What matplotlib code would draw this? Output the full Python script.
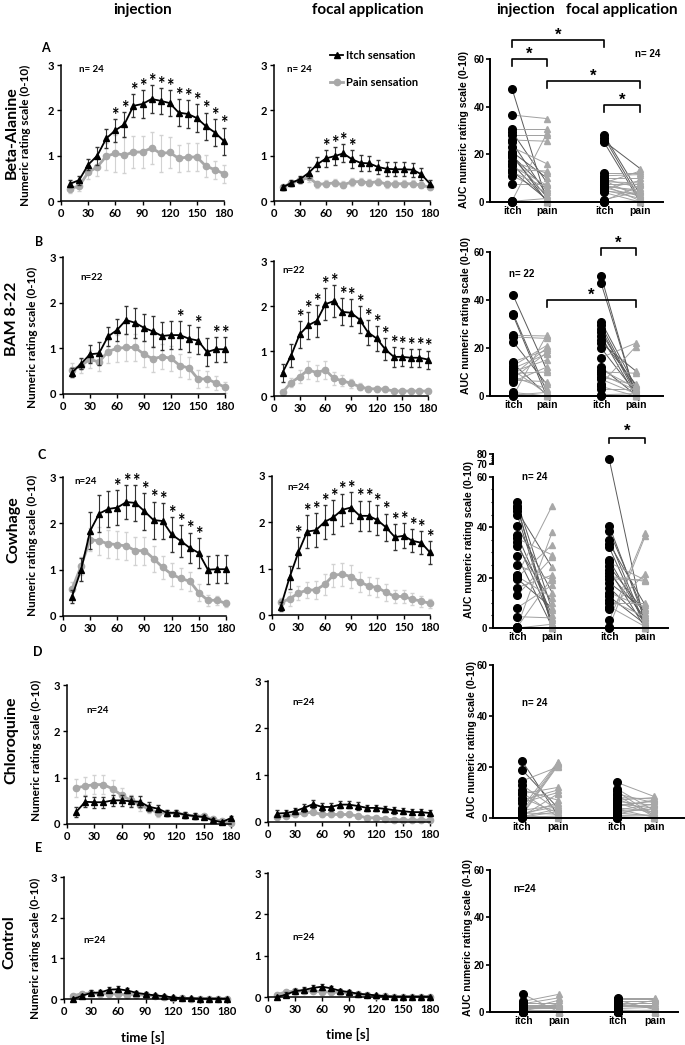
import matplotlib
matplotlib.use('Agg')
import matplotlib.pyplot as plt
from matplotlib.lines import Line2D
import numpy as np

plt.rcParams['font.family'] = ['Lato', 'DejaVu Sans']
plt.rcParams['font.weight'] = 'bold'
plt.rcParams['axes.labelweight'] = 'bold'

W, H = 685, 1045

# time course data (mean +- SE), every 10 s
t = np.arange(10, 190, 10)

ba_inj_itch = [0.38, 0.46, 0.80, 1.00, 1.38, 1.56, 1.69, 2.10, 2.14, 2.25, 2.21, 2.16, 1.95, 1.92, 1.83, 1.65, 1.51, 1.32]
ba_inj_itch_se = [0.08, 0.10, 0.12, 0.20, 0.20, 0.25, 0.28, 0.25, 0.30, 0.30, 0.28, 0.28, 0.30, 0.30, 0.30, 0.30, 0.30, 0.30]
ba_inj_pain = [0.27, 0.33, 0.63, 0.75, 0.99, 1.05, 1.01, 1.08, 1.08, 1.17, 1.05, 1.07, 0.94, 0.97, 0.97, 0.77, 0.69, 0.60]
ba_inj_pain_se = [0.10, 0.10, 0.15, 0.20, 0.30, 0.40, 0.40, 0.35, 0.35, 0.35, 0.40, 0.35, 0.30, 0.30, 0.30, 0.25, 0.20, 0.20]
ba_inj_stars = [60, 70, 80, 90, 100, 110, 120, 130, 140, 150, 160, 170, 180]

ba_foc_itch = [0.30, 0.40, 0.48, 0.62, 0.81, 0.94, 0.99, 1.05, 0.92, 0.84, 0.83, 0.75, 0.71, 0.70, 0.70, 0.69, 0.59, 0.38]
ba_foc_itch_se = [0.05, 0.06, 0.08, 0.12, 0.15, 0.18, 0.20, 0.20, 0.20, 0.18, 0.17, 0.15, 0.15, 0.15, 0.15, 0.15, 0.13, 0.08]
ba_foc_pain = [0.30, 0.40, 0.46, 0.52, 0.37, 0.38, 0.40, 0.36, 0.42, 0.43, 0.40, 0.43, 0.37, 0.38, 0.38, 0.38, 0.35, 0.30]
ba_foc_pain_se = [0.05, 0.05, 0.07, 0.10, 0.08, 0.08, 0.08, 0.08, 0.08, 0.08, 0.08, 0.08, 0.08, 0.08, 0.08, 0.08, 0.07, 0.06]
ba_foc_stars = [60, 70, 80, 90]

bam_inj_itch = [0.47, 0.66, 0.87, 0.89, 1.26, 1.40, 1.62, 1.56, 1.45, 1.37, 1.27, 1.29, 1.29, 1.21, 1.17, 0.92, 0.98, 0.98]
bam_inj_itch_se = [0.10, 0.12, 0.20, 0.25, 0.20, 0.25, 0.30, 0.33, 0.30, 0.33, 0.30, 0.30, 0.30, 0.30, 0.30, 0.30, 0.27, 0.27]
bam_inj_pain = [0.53, 0.62, 0.76, 0.70, 0.93, 1.00, 1.02, 1.02, 0.87, 0.77, 0.82, 0.78, 0.62, 0.57, 0.33, 0.33, 0.24, 0.15]
bam_inj_pain_se = [0.15, 0.15, 0.20, 0.20, 0.25, 0.30, 0.30, 0.30, 0.28, 0.28, 0.28, 0.28, 0.25, 0.25, 0.20, 0.18, 0.15, 0.12]
bam_inj_stars = [130, 150, 170, 180]

bam_foc_itch = [0.52, 0.90, 1.37, 1.57, 1.67, 2.04, 2.11, 1.87, 1.85, 1.70, 1.41, 1.28, 1.04, 0.87, 0.87, 0.85, 0.85, 0.81]
bam_foc_itch_se = [0.20, 0.25, 0.30, 0.30, 0.35, 0.35, 0.35, 0.30, 0.30, 0.30, 0.28, 0.27, 0.25, 0.22, 0.20, 0.20, 0.20, 0.20]
bam_foc_pain = [0.08, 0.30, 0.43, 0.58, 0.52, 0.58, 0.39, 0.34, 0.28, 0.21, 0.16, 0.16, 0.15, 0.11, 0.11, 0.11, 0.11, 0.11]
bam_foc_pain_se = [0.05, 0.10, 0.15, 0.20, 0.18, 0.20, 0.15, 0.12, 0.10, 0.08, 0.07, 0.07, 0.06, 0.05, 0.05, 0.05, 0.05, 0.05]
bam_foc_stars = [30, 40, 50, 60, 70, 80, 90, 100, 110, 120, 130, 140, 150, 160, 170, 180]

cow_inj_itch = [0.42, 1.00, 1.84, 2.21, 2.31, 2.34, 2.46, 2.44, 2.26, 2.07, 2.05, 1.76, 1.62, 1.47, 1.36, 1.00, 1.01, 1.01]
cow_inj_itch_se = [0.15, 0.25, 0.40, 0.40, 0.38, 0.38, 0.37, 0.38, 0.40, 0.40, 0.38, 0.37, 0.35, 0.33, 0.32, 0.30, 0.30, 0.30]
cow_inj_pain = [0.58, 1.08, 1.65, 1.62, 1.56, 1.54, 1.51, 1.41, 1.41, 1.24, 1.05, 0.90, 0.81, 0.75, 0.50, 0.34, 0.34, 0.27]
cow_inj_pain_se = [0.15, 0.20, 0.25, 0.30, 0.30, 0.30, 0.30, 0.30, 0.30, 0.28, 0.25, 0.25, 0.22, 0.20, 0.18, 0.12, 0.10, 0.08]
cow_inj_stars = [60, 70, 80, 90, 100, 110, 120, 130, 140, 150]

cow_foc_itch = [0.18, 0.81, 1.35, 1.80, 1.83, 2.01, 2.11, 2.27, 2.32, 2.14, 2.14, 2.05, 1.89, 1.68, 1.71, 1.60, 1.56, 1.35]
cow_foc_itch_se = [0.10, 0.25, 0.33, 0.35, 0.37, 0.37, 0.37, 0.35, 0.33, 0.33, 0.33, 0.32, 0.30, 0.28, 0.27, 0.25, 0.25, 0.25]
cow_foc_pain = [0.27, 0.35, 0.47, 0.54, 0.54, 0.66, 0.86, 0.88, 0.83, 0.71, 0.63, 0.59, 0.49, 0.40, 0.40, 0.34, 0.30, 0.25]
cow_foc_pain_se = [0.10, 0.15, 0.15, 0.18, 0.20, 0.22, 0.25, 0.25, 0.25, 0.22, 0.20, 0.20, 0.18, 0.15, 0.15, 0.13, 0.12, 0.10]
cow_foc_stars = [30, 40, 50, 60, 70, 80, 90, 100, 110, 120, 130, 140, 150, 160, 170, 180]

clq_inj_itch = [0.26, 0.48, 0.47, 0.47, 0.51, 0.51, 0.49, 0.48, 0.37, 0.33, 0.24, 0.24, 0.20, 0.17, 0.15, 0.08, 0.04, 0.13]
clq_inj_itch_se = [0.10, 0.12, 0.12, 0.12, 0.12, 0.12, 0.12, 0.12, 0.10, 0.08, 0.07, 0.07, 0.06, 0.06, 0.05, 0.04, 0.03, 0.05]
clq_inj_pain = [0.78, 0.82, 0.85, 0.85, 0.76, 0.62, 0.51, 0.40, 0.33, 0.24, 0.24, 0.24, 0.20, 0.17, 0.17, 0.10, 0.06, 0.02]
clq_inj_pain_se = [0.20, 0.20, 0.20, 0.20, 0.18, 0.15, 0.12, 0.12, 0.10, 0.08, 0.07, 0.07, 0.06, 0.05, 0.05, 0.04, 0.03, 0.02]

clq_foc_itch = [0.18, 0.19, 0.23, 0.30, 0.38, 0.32, 0.32, 0.37, 0.37, 0.34, 0.30, 0.30, 0.28, 0.25, 0.23, 0.21, 0.21, 0.19]
clq_foc_itch_se = [0.07, 0.07, 0.07, 0.08, 0.08, 0.08, 0.08, 0.08, 0.08, 0.08, 0.07, 0.07, 0.07, 0.07, 0.07, 0.07, 0.07, 0.07]
clq_foc_pain = [0.11, 0.13, 0.16, 0.19, 0.21, 0.16, 0.16, 0.16, 0.16, 0.13, 0.09, 0.09, 0.06, 0.05, 0.04, 0.04, 0.04, 0.04]
clq_foc_pain_se = [0.04, 0.04, 0.05, 0.05, 0.05, 0.05, 0.05, 0.05, 0.05, 0.04, 0.04, 0.03, 0.03, 0.03, 0.03, 0.03, 0.03, 0.03]

ctl_inj_itch = [0.00, 0.08, 0.15, 0.16, 0.23, 0.24, 0.21, 0.15, 0.12, 0.09, 0.07, 0.04, 0.02, 0.02, 0.01, 0.01, 0.01, 0.01]
ctl_inj_itch_se = [0.02, 0.05, 0.06, 0.06, 0.07, 0.07, 0.06, 0.05, 0.05, 0.04, 0.03, 0.02, 0.02, 0.01, 0.01, 0.01, 0.01, 0.01]
ctl_inj_pain = [0.08, 0.13, 0.15, 0.13, 0.13, 0.12, 0.11, 0.11, 0.09, 0.07, 0.05, 0.02, 0.02, 0.01, 0.01, 0.01, 0.01, 0.00]
ctl_inj_pain_se = [0.04, 0.05, 0.05, 0.05, 0.05, 0.05, 0.05, 0.04, 0.04, 0.03, 0.03, 0.02, 0.01, 0.01, 0.01, 0.01, 0.01, 0.01]

ctl_foc_itch = [0.00, 0.06, 0.14, 0.17, 0.22, 0.25, 0.21, 0.15, 0.12, 0.08, 0.06, 0.04, 0.02, 0.01, 0.01, 0.01, 0.01, 0.01]
ctl_foc_itch_se = [0.02, 0.05, 0.06, 0.06, 0.07, 0.07, 0.06, 0.05, 0.05, 0.04, 0.03, 0.02, 0.02, 0.01, 0.01, 0.01, 0.01, 0.01]
ctl_foc_pain = [0.06, 0.12, 0.14, 0.15, 0.14, 0.13, 0.12, 0.11, 0.09, 0.07, 0.05, 0.03, 0.02, 0.01, 0.01, 0.01, 0.01, 0.00]
ctl_foc_pain_se = [0.04, 0.05, 0.05, 0.05, 0.05, 0.05, 0.05, 0.04, 0.04, 0.03, 0.03, 0.02, 0.01, 0.01, 0.01, 0.01, 0.01, 0.01]

# AUC per subject (itch, pain) for injection and focal application
ba_auc_inj_itch = [47.5, 36.5, 30.5, 29.5, 28, 26, 25, 23, 21, 19.5, 19, 17, 16, 15, 13.5, 12.5, 11, 7.5, 13, 20, 0.5, 0.3, 0, 0]
ba_auc_inj_pain = [0, 35, 30.5, 8, 28, 25.5, 3, 16, 10, 5, 2, 12, 0.5, 7, 13, 6, 4, 7.5, 1, 0, 29, 1.5, 0, 0]
ba_auc_foc_itch = [28, 27, 25.5, 25, 12, 11, 10, 9.5, 9, 8.5, 8, 7.5, 7, 7, 6.5, 6, 5.5, 5, 4.5, 4, 1, 0.5, 0, 0]
ba_auc_foc_pain = [3, 1, 14, 0, 12, 11.5, 10, 6, 2, 8, 13, 7.5, 4, 0.5, 5, 2.5, 9, 1.5, 3.5, 0, 4.5, 7, 0.5, 0]

bam_auc_inj_itch = [42, 34.3, 33.6, 25.3, 24.6, 22.6, 14.3, 13.6, 12.6, 11.5, 10.8, 10.1, 9.4, 8.7, 8, 7.3, 6.6, 6, 1.5, 0.8, 0.4, 0]
bam_auc_inj_pain = [11, 2, 0, 25, 24, 5, 19, 0.5, 21, 17.5, 1, 15, 10, 20, 3, 18, 6, 12, 0, 0, 1.5, 25.3]
bam_auc_foc_itch = [50, 47, 31, 29.5, 28, 26.5, 25, 23.5, 22, 20, 16, 12, 11, 10, 9, 8, 7, 5, 4, 3, 0.5, 0]
bam_auc_foc_pain = [0, 0.5, 4, 2, 1, 3, 0, 5, 10.5, 1.5, 22, 0.5, 3.5, 9.5, 2.5, 4.5, 1, 20.5, 0, 3, 1, 0]

cow_auc_inj_itch = [50, 48.5, 47.5, 46.5, 45, 40.5, 37, 35.5, 34, 32.5, 28.5, 25, 21, 20.5, 20, 19.5, 16, 13, 8, 4.5, 0.5, 0.3, 0, 0]
cow_auc_inj_pain = [7, 0, 2, 24, 1, 14, 5, 29, 3, 10, 0.5, 19, 48.5, 12, 33, 8, 21, 28, 17, 4, 38, 20, 1.5, 0]
cow_auc_foc_itch = [75, 40.5, 38.5, 35, 33.5, 32, 27, 26, 24.5, 23, 22, 20.5, 19.5, 18, 16, 14, 12.5, 11, 10, 8.5, 7.5, 3, 0.5, 0]
cow_auc_foc_pain = [0, 3, 5, 1, 9, 0.5, 2, 19, 6, 0, 4, 18.5, 19, 7, 2.5, 8, 1.5, 4.5, 10, 0.5, 21.5, 37.5, 36.5, 0]

clq_auc_inj_itch = [22.5, 19, 14.5, 13, 11, 10, 9.5, 8, 7, 6, 4, 3, 2.5, 2, 1.8, 1.5, 1.2, 1, 0.8, 0.6, 0.5, 0.3, 0.2, 0]
clq_auc_inj_pain = [1, 4, 20, 3, 7, 0.5, 12, 2, 11, 10, 22, 5, 21.5, 1.5, 4.5, 21, 6, 20.5, 0.3, 9.5, 3.5, 2.5, 0.8, 0]
clq_auc_foc_itch = [14, 11.5, 10.5, 9.5, 9, 8, 7.5, 7, 6.5, 6, 5.5, 5, 4.5, 4, 3.5, 3, 2.5, 2, 1.5, 1, 0.5, 0.3, 0.1, 0]
clq_auc_foc_pain = [8.5, 3, 1, 6, 0.5, 7.5, 2, 8, 5, 1.5, 4, 6.5, 7, 2.5, 0.3, 5.5, 3.5, 0.8, 4.5, 1.2, 0.2, 0.1, 0, 0]

ctl_auc_inj_itch = [7.5, 4.5, 4, 3.5, 3, 2.5, 2, 1.5, 1.2, 1, 0.8, 0.5, 0.3, 0.2, 0.1, 0, 0, 0, 0, 0, 0, 0, 0, 0]
ctl_auc_inj_pain = [0, 7.5, 4, 6, 3, 2.5, 2, 1.5, 5, 1, 0.5, 3.5, 0, 0, 0, 0, 0, 0, 0, 0, 0, 0, 0, 0]
ctl_auc_foc_itch = [6, 5.5, 5, 4.5, 4, 3.5, 3, 2.5, 2, 1.5, 1, 0.8, 0.5, 0.3, 0, 0, 0, 0, 0, 0, 0, 0, 0, 0]
ctl_auc_foc_pain = [6, 5.5, 1, 4.5, 4, 1.5, 3, 2.5, 5, 2, 1, 0.5, 0.8, 0, 0, 0, 0, 0, 0, 0, 0, 0, 0, 0]

groups = ['itch', 'pain', 'itch', 'pain']
xpos = [0, 1, 2.63, 3.66]

fig = plt.figure(figsize=(6.85, 10.45), dpi=100)


def add_ax(x0, y0, x1, y1):
    return fig.add_axes([x0 / W, 1 - y1 / H, (x1 - x0) / W, (y1 - y0) / H])


def ftext(x, y, s, **kw):
    fig.text(x / W, 1 - y / H, s, **kw)


def time_panel(box, itch, itch_se, pain, pain_se, stars, n_label, n_xy):
    ax = add_ax(*box)
    itch = np.array(itch)
    itch_se = np.array(itch_se)
    ax.errorbar(t, pain, yerr=pain_se, color='#a8a8a8', marker='o', ms=4.5, lw=2,
                ecolor='#d2d2d2', elinewidth=0.8, capsize=1.5, zorder=2, clip_on=False)
    ax.errorbar(t, itch, yerr=itch_se, color='black', marker='^', ms=4, lw=1.3,
                ecolor='#333333', elinewidth=0.8, capsize=1.5, zorder=3, clip_on=False)
    for s in stars:
        i = list(t).index(s)
        ax.text(s, itch[i] + itch_se[i] + 0.08, '*', ha='center', va='center', fontsize=13)
    ax.text(n_xy[0], n_xy[1], n_label, fontsize=7, va='center')
    ax.set_xlim(0, 180)
    ax.set_ylim(0, 3)
    ax.set_xticks(range(0, 181, 30))
    ax.set_yticks([0, 1, 2, 3])
    ax.spines['top'].set_visible(False)
    ax.spines['right'].set_visible(False)
    ax.spines['left'].set_linewidth(1.1)
    ax.spines['bottom'].set_linewidth(1.1)
    ax.tick_params(direction='out', length=3, width=1, labelsize=8, pad=2)
    return ax


def auc_panel(box, xlim, ylim, inj_itch, inj_pain, foc_itch, foc_pain, n_label, n_xy):
    ax = add_ax(*box)
    for (xa, xb), (ia, pa) in [((xpos[0], xpos[1]), (inj_itch, inj_pain)),
                               ((xpos[2], xpos[3]), (foc_itch, foc_pain))]:
        for a, b in zip(ia, pa):
            c = '#5a5a5a' if a - b > 10 else '#a0a0a0'
            ax.plot([xa, xb], [a, b], color=c, lw=0.7, zorder=1)
        ax.plot(np.full(len(ia), xa), ia, 'o', color='black', ms=5.5, zorder=3, clip_on=False)
        ax.plot(np.full(len(pa), xb), pa, '^', color='#a8a8a8', ms=5, zorder=2, clip_on=False)
    ax.set_xlim(*xlim)
    ax.set_ylim(*ylim)
    ax.set_xticks(xpos)
    ax.set_xticklabels(groups, family=['Liberation Sans'])
    ax.set_yticks([0, 20, 40, 60])
    for lab in ax.get_yticklabels():
        lab.set_family(['Liberation Sans'])
    ax.spines['top'].set_visible(False)
    ax.spines['right'].set_visible(False)
    ax.spines['left'].set_linewidth(1.4)
    ax.spines['bottom'].set_linewidth(1.4)
    ax.tick_params(axis='y', direction='out', length=3, width=1.2, labelsize=7, pad=1)
    ax.tick_params(axis='x', length=0, labelsize=7.5, pad=3)
    ax.text(n_xy[0], n_xy[1], n_label, fontsize=7, ha='center', va='center',
            family=['Liberation Sans'])
    return ax


def bracket(ax, x1, x2, y, h=3.0, star_dy=2.0):
    ax.plot([x1, x1, x2, x2], [y - h, y, y, y - h], color='black', lw=1.2, clip_on=False)
    ax.text((x1 + x2) / 2, y + star_dy, '*', ha='center', va='center', fontsize=12,
            family=['Liberation Sans'])


# headers
ftext(143, 10, 'injection', fontsize=11, ha='center', va='center')
ftext(368, 10, 'focal application', fontsize=11, ha='center', va='center')
ftext(526, 10, 'injection', fontsize=11, ha='center', va='center')
ftext(622, 10, 'focal application', fontsize=11, ha='center', va='center')

# row A
ax = time_panel((61, 65, 224, 201), ba_inj_itch, ba_inj_itch_se, ba_inj_pain, ba_inj_pain_se,
                ba_inj_stars, 'n= 24', (20, 2.9))
ax = time_panel((274, 65, 430, 201), ba_foc_itch, ba_foc_itch_se, ba_foc_pain, ba_foc_pain_se,
                ba_foc_stars, 'n= 24', (15, 2.9))
handles = [Line2D([], [], color='black', marker='^', ms=4, lw=1.3),
           Line2D([], [], color='#a8a8a8', marker='o', ms=4.5, lw=2)]
ax.legend(handles, ['Itch sensation', 'Pain sensation'], loc='upper left',
          bbox_to_anchor=(330 / W, 1 - 50 / H), bbox_transform=fig.transFigure,
          frameon=False, fontsize=8, handlelength=1.2, handletextpad=0.2,
          labelspacing=1.4, borderpad=0, borderaxespad=0)
ax = auc_panel((490, 59, 663, 202), (-0.63, 4.31), (0, 60), ba_auc_inj_itch, ba_auc_inj_pain,
               ba_auc_foc_itch, ba_auc_foc_pain, 'n= 24', (3.86, 62))
bracket(ax, xpos[0], xpos[2], 68)
bracket(ax, xpos[0], xpos[1], 60)
bracket(ax, xpos[1], xpos[3], 50.8)
bracket(ax, xpos[2], xpos[3], 40.7)

# row B
time_panel((63, 257, 225, 394), bam_inj_itch, bam_inj_itch_se, bam_inj_pain, bam_inj_pain_se,
           bam_inj_stars, 'n=22', (19, 2.56))
time_panel((274, 261, 428, 396), bam_foc_itch, bam_foc_itch_se, bam_foc_pain, bam_foc_pain_se,
           bam_foc_stars, 'n=22', (10, 2.78))
ax = auc_panel((490, 252, 663, 396), (-0.69, 4.48), (0, 60), bam_auc_inj_itch, bam_auc_inj_pain,
               bam_auc_foc_itch, bam_auc_foc_pain, 'n= 22', (0.27, 51))
bracket(ax, xpos[2], xpos[3], 61.7)
bracket(ax, xpos[1], xpos[3], 40)

# row C
time_panel((63, 477, 226, 616), cow_inj_itch, cow_inj_itch_se, cow_inj_pain, cow_inj_pain_se,
           cow_inj_stars, 'n=24', (13, 2.91))
time_panel((272, 476, 430, 615), cow_foc_itch, cow_foc_itch_se, cow_foc_pain, cow_foc_pain_se,
           cow_foc_stars, 'n=24', (18, 2.76))
ax = auc_panel((493, 454, 668, 628), (-0.69, 4.31), (0, 60), cow_auc_inj_itch, cow_auc_inj_pain,
               cow_auc_foc_itch, cow_auc_foc_pain, 'n= 24', (0.5, 59.7))
bp_in = [-100, 0, 60, 70, 80, 200]
bp_out = [-100, 0, 60, 65, 69, 189]
ax.set_yscale('function', functions=(lambda y: np.interp(y, bp_in, bp_out),
                                     lambda y: np.interp(y, bp_out, bp_in)))
ax.set_ylim(0, 80)
ax.set_yticks([0, 20, 40, 60, 70, 80])
ax.set_yticks(list(range(5, 60, 5)) + [72, 74, 76, 78], minor=True)
ax.tick_params(axis='y', which='minor', length=1.8, width=0.8)
for lab in ax.get_yticklabels():
    lab.set_family(['Liberation Sans'])
ax.spines['left'].set_bounds(0, 60)
ax.plot([0, 0], [70, 80], color='black', lw=1.4, transform=ax.get_yaxis_transform(), clip_on=False)
bracket(ax, xpos[2], xpos[3], 86.5, h=2.0, star_dy=2.5)

# row D
time_panel((67, 685, 231, 824), clq_inj_itch, clq_inj_itch_se, clq_inj_pain, clq_inj_pain_se,
           [], 'n=24', (21, 2.44))
time_panel((268, 681, 430, 822), clq_foc_itch, clq_foc_itch_se, clq_foc_pain, clq_foc_pain_se,
           [], 'n=24', (27, 2.55))
auc_panel((493, 665, 684, 818), (-0.8, 4.5), (0, 60), clq_auc_inj_itch, clq_auc_inj_pain,
          clq_auc_foc_itch, clq_auc_foc_pain, 'n= 24', (0.36, 45))

# row E
ax = time_panel((64, 877, 227, 999), ctl_inj_itch, ctl_inj_itch_se, ctl_inj_pain, ctl_inj_pain_se,
                [], 'n=24', (21, 1.43))
ax = time_panel((268, 873, 430, 997), ctl_foc_itch, ctl_foc_itch_se, ctl_foc_pain, ctl_foc_pain_se,
                [], 'n=24', (27, 1.43))
auc_panel((490, 870, 678, 1012), (-0.92, 4.3), (0, 60), ctl_auc_inj_itch, ctl_auc_inj_pain,
          ctl_auc_foc_itch, ctl_auc_foc_pain, 'n=24', (0.05, 52))

ftext(143, 1037, 'time [s]', fontsize=9.5, ha='center', va='center')
ftext(348, 1034, 'time [s]', fontsize=9.5, ha='center', va='center')

# row labels, y labels, panel letters
rows = ['Beta-Alanine', 'BAM 8-22', 'Cowhage', 'Chloroquine', 'Control']
row_xy = [(12, 133), (12, 319), (13, 530), (11, 740), (9, 942)]
ylab_xy = [(25, 135), (32, 337), (32, 545), (36, 750), (35, 948)]
auc_xy = [(464, 130), (466, 316), (469, 540), (472, 740), (468, 938)]
letters = ['A', 'B', 'C', 'D', 'E']
letter_xy = [(45, 48), (39, 242), (42, 455), (38, 652), (39, 848)]
for i in range(5):
    ftext(*row_xy[i], rows[i], fontsize=11.5, rotation=90, ha='center', va='center')
    ftext(*ylab_xy[i], 'Numeric rating scale (0-10)', fontsize=8.5, rotation=90,
          ha='center', va='center')
    ftext(*auc_xy[i], 'AUC numeric rating scale (0-10)', fontsize=7.5, rotation=90,
          ha='center', va='center', family=['Liberation Sans'])
    ftext(*letter_xy[i], letters[i], fontsize=9, ha='center', va='center')

fig.savefig('out.png', dpi=100)
